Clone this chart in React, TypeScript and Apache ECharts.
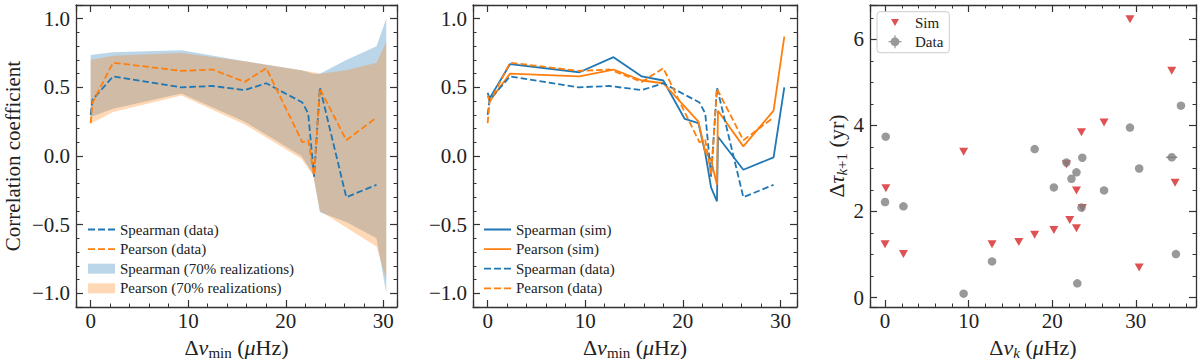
import React, { useEffect, useRef } from 'react';
import * as echarts from 'echarts';

const FONT = '"Liberation Serif", "Times New Roman", serif';
const TXT = '#222222';
const AX = '#333333';
const BLUE = '#1f77b4';
const ORANGE = '#ff7f0e';
const RED = '#d62728';
const GRAY = '#808080';
const BLUE_FILL = 'rgba(31,119,180,0.3)';
const ORANGE_FILL = 'rgba(255,127,14,0.3)';

// ---- Panel 1 & 2: correlation vs Δν_min ----
const dvMinData = [0, 0.2, 2.3, 9.3, 12.5, 15.8, 18.0, 21.7, 22.3, 22.9, 23.5, 26.2, 29.3];
const spearmanData = [0.30, 0.41, 0.58, 0.50, 0.51, 0.48, 0.53, 0.39, 0.31, -0.15, 0.50, -0.30, -0.21];
const pearsonData = [0.24, 0.39, 0.68, 0.62, 0.63, 0.54, 0.64, 0.10, 0.115, -0.14, 0.49, 0.115, 0.28];

const dvMinSim = [0, 0.2, 2.3, 9.4, 12.9, 15.8, 18.0, 20.2, 21.6, 22.3, 22.9, 23.5, 23.6, 26.2, 29.3, 30.4];
const spearmanSim = [0.46, 0.42, 0.67, 0.61, 0.72, 0.58, 0.55, 0.27, 0.24, 0.02, -0.23, -0.33, 0.14, -0.10, -0.01, 0.50];
const pearsonSim = [0.44, 0.40, 0.60, 0.58, 0.63, 0.55, 0.53, 0.36, 0.25, 0.03, -0.03, -0.21, 0.33, 0.07, 0.33, 0.87];

const bandX = [0, 2.3, 9.3, 15.8, 21.6, 22.8, 23.5, 26.2, 29.3, 30.3];
const spearmanHi = [0.735, 0.755, 0.77, 0.69, 0.625, 0.60, 0.60, 0.70, 0.80, 1.00];
const spearmanLo = [0.285, 0.345, 0.455, 0.25, 0.00, -0.13, -0.41, -0.48, -0.60, -1.00];
const pearsonHi = [0.70, 0.73, 0.75, 0.69, 0.625, 0.61, 0.60, 0.625, 0.68, 0.83];
const pearsonLo = [0.235, 0.32, 0.44, 0.23, -0.02, -0.14, -0.40, -0.52, -0.66, -0.90];

// ---- Panel 3: Δτ_{k+1} vs Δν_k ----
const simX = [0.1, 0, 2.2, 9.4, 12.8, 16.0, 17.9, 20.2, 22.1, 22.9, 21.7, 22.9, 23.6, 23.5, 26.2, 29.3, 30.4, 34.3, 34.7];
const simY = [2.54, 1.24, 1.01, 3.39, 1.24, 1.29, 1.46, 1.57, 1.80, 1.61, 3.10, 2.49, 2.08, 3.84, 4.07, 6.47, 0.70, 5.27, 2.67];
const dataX = [0.08, 0, 2.2, 9.4, 12.8, 17.9, 20.2, 21.7, 22.3, 22.9, 23.6, 23.5, 23.0, 26.2, 29.3, 30.4, 34.3, 34.8, 35.4];
const dataY = [3.74, 2.22, 2.12, 0.09, 0.84, 3.45, 2.56, 3.14, 2.76, 2.91, 3.25, 2.09, 0.33, 2.49, 3.95, 3.00, 3.26, 1.01, 4.46];
const errX = [34.3];
const errY = [3.26];
const errXHalf = [0.65];

const TRI_DOWN = 'path://M0,0 L10,0 L5,8.66 Z';
const LEG_SIM = 'path://M0,0 L0.01,0 L0,0.01 Z M22,14 L21.99,14 L22,13.99 Z M3,3.2 L11,3.2 L7,10.2 Z';
const LEG_DATA = 'path://M0,0 L0.01,0 L0,0.01 Z M22,14 L21.99,14 L22,13.99 Z M7,2.6 A4.4,4.4 0 1 1 6.99,2.6 Z M0.5,6.4 H13.5 V7.6 H0.5 Z M6.4,0.5 H7.6 V13.5 H6.4 Z';
const LEG_CORNERS = 'M0,0 L0.01,0 L0,0.01 Z M27,10 L26.99,10 L27,9.99 Z ';
const LEG_SOLID = 'path://' + LEG_CORNERS + 'M0,4.1 H27 V5.9 H0 Z';
const LEG_DASHED = 'path://' + LEG_CORNERS + 'M0,4.1 H7 V5.9 H0 Z M10,4.1 H17 V5.9 H10 Z M20,4.1 H27 V5.9 H20 Z';

const corrFmt = (v: number) => (Math.abs(v) < 1e-9 ? '0.0' : v.toFixed(1)).replace('-', '\u2212');
const intFmt = (v: number) => String(Math.round(v)).replace('-', '\u2212');

function axis(o: any) {
  return {
    type: 'value',
    gridIndex: o.grid,
    position: o.position,
    min: o.min,
    max: o.max,
    splitNumber: o.split,
    axisLine: { show: true, onZero: false, lineStyle: { color: AX, width: 1.3 } },
    axisTick: { show: true, inside: true, length: 7, lineStyle: { color: AX, width: 1.2 } },
    minorTick: { show: true, splitNumber: o.minor, length: 3.5, lineStyle: { color: AX, width: 1 } },
    splitLine: { show: false },
    minorSplitLine: { show: false },
    axisLabel: {
      show: !!o.labels,
      fontFamily: FONT,
      fontSize: 21,
      color: TXT,
      margin: o.margin ?? 4,
      showMinLabel: false,
      showMaxLabel: false,
      formatter: o.fmt,
    },
    name: o.name,
    nameLocation: 'middle',
    nameGap: o.nameGap,
    nameRotate: o.nameRotate,
    nameTextStyle: o.nameStyle,
  };
}

const richBase = {
  a: { fontFamily: FONT, fontSize: 22, color: TXT, lineHeight: 26 },
  i: { fontFamily: FONT, fontSize: 22, color: TXT, lineHeight: 26, fontStyle: 'italic' },
  s: { fontFamily: FONT, fontSize: 15, color: TXT, lineHeight: 15, verticalAlign: 'bottom' },
  si: { fontFamily: FONT, fontSize: 15, color: TXT, lineHeight: 15, verticalAlign: 'bottom', fontStyle: 'italic' },
};
const xNameMin = '{a|Δ}{i|ν}{s|min}{a| (}{i|μ}{a|Hz)}';
const xNameK = '{a|Δ}{i|ν}{si|k}{a| (}{i|μ}{a|Hz)}';
const yNameTau = '{a|Δ}{i|τ}{si|k}{s|+1}{a| (yr)}';

function lineSeries(name: string, xs: number[], ys: number[], color: string, dashed: boolean, idx: number) {
  return {
    type: 'line',
    name,
    xAxisIndex: idx,
    yAxisIndex: idx,
    data: xs.map((x, i) => [x, ys[i]]),
    symbol: 'none',
    showSymbol: false,
    lineStyle: { color, width: 1.8, type: dashed ? [6.5, 3] : 'solid' },
    itemStyle: { color },
    z: 3,
  };
}

function bandSeries(name: string, xs: number[], lo: number[], hi: number[], color: string) {
  return {
    type: 'custom',
    name,
    xAxisIndex: 0,
    yAxisIndex: 0,
    data: xs.map((x, i) => [x, lo[i], hi[i]]),
    encode: { x: 0, y: [1, 2] },
    itemStyle: { color },
    silent: true,
    z: 2,
    renderItem: (params: any, api: any) => {
      if (params.dataIndex !== 0) return { type: 'group', children: [] };
      const pts: number[][] = [];
      for (let i = 0; i < xs.length; i++) pts.push(api.coord([xs[i], hi[i]]));
      for (let i = xs.length - 1; i >= 0; i--) pts.push(api.coord([xs[i], lo[i]]));
      return { type: 'polygon', shape: { points: pts }, style: { fill: color } };
    },
  };
}

const legendText = { fontFamily: FONT, fontSize: 15, color: TXT, lineHeight: 15 };
const noBorder = { borderWidth: 0 };

function buildOption() {
  const xMinCorr = -1.5;
  return {
    animation: false,
    backgroundColor: '#ffffff',
    grid: [
      { left: 76, top: 5, width: 321, height: 302, outerBoundsMode: 'none' },
      { left: 473, top: 5, width: 324, height: 302, outerBoundsMode: 'none' },
      { left: 870, top: 5, width: 326, height: 302, outerBoundsMode: 'none' },
    ],
    xAxis: [
      axis({ grid: 0, position: 'bottom', min: xMinCorr, max: 31.4, split: 3, minor: 5, labels: true, fmt: intFmt, margin: 3,
        name: xNameMin, nameGap: 27, nameStyle: { rich: richBase } }),
      axis({ grid: 0, position: 'top', min: xMinCorr, max: 31.4, split: 3, minor: 5 }),
      axis({ grid: 1, position: 'bottom', min: xMinCorr, max: 31.7, split: 3, minor: 5, labels: true, fmt: intFmt, margin: 3,
        name: xNameMin, nameGap: 27, nameStyle: { rich: richBase } }),
      axis({ grid: 1, position: 'top', min: xMinCorr, max: 31.7, split: 3, minor: 5 }),
      axis({ grid: 2, position: 'bottom', min: -1.8, max: 37.2, split: 3, minor: 5, labels: true, fmt: intFmt, margin: 3,
        name: xNameK, nameGap: 27, nameStyle: { rich: richBase } }),
      axis({ grid: 2, position: 'top', min: -1.8, max: 37.2, split: 3, minor: 5 }),
    ],
    yAxis: [
      axis({ grid: 0, position: 'left', min: -1.1, max: 1.1, split: 5, minor: 5, labels: true, fmt: corrFmt, margin: 6,
        name: 'Correlation coefficient', nameGap: 53, nameRotate: 90,
        nameStyle: { fontFamily: FONT, fontSize: 21, color: TXT } }),
      axis({ grid: 0, position: 'right', min: -1.1, max: 1.1, split: 5, minor: 5 }),
      axis({ grid: 1, position: 'left', min: -1.1, max: 1.1, split: 5, minor: 5, labels: true, fmt: corrFmt, margin: 6 }),
      axis({ grid: 1, position: 'right', min: -1.1, max: 1.1, split: 5, minor: 5 }),
      axis({ grid: 2, position: 'left', min: -0.22, max: 6.8, split: 3, minor: 4, labels: true, fmt: intFmt, margin: 6,
        name: yNameTau, nameGap: 18, nameRotate: 90, nameStyle: { rich: richBase } }),
      axis({ grid: 2, position: 'right', min: -0.22, max: 6.8, split: 3, minor: 4 }),
    ],
    legend: [
      {
        orient: 'vertical', left: 88, top: 222, padding: 0, itemWidth: 27, itemHeight: 10, itemGap: 4.6,
        selectedMode: false, textStyle: legendText,
        data: [
          { name: 'Spearman (data)', icon: LEG_DASHED, itemStyle: noBorder },
          { name: 'Pearson (data)', icon: LEG_DASHED, itemStyle: noBorder },
          { name: 'Spearman (70% realizations)', icon: 'rect', itemStyle: noBorder },
          { name: 'Pearson (70% realizations)', icon: 'rect', itemStyle: noBorder },
        ],
      },
      {
        orient: 'vertical', left: 484, top: 222, padding: 0, itemWidth: 27, itemHeight: 10, itemGap: 4.6,
        selectedMode: false, textStyle: legendText,
        data: [
          { name: 'Spearman (sim)', icon: LEG_SOLID, itemStyle: noBorder },
          { name: 'Pearson (sim)', icon: LEG_SOLID, itemStyle: noBorder },
          { name: 'Spearman (data)', icon: LEG_DASHED, itemStyle: noBorder },
          { name: 'Pearson (data)', icon: LEG_DASHED, itemStyle: noBorder },
        ],
      },
      {
        orient: 'vertical', left: 877, top: 11.7, padding: [3.5, 6, 3.5, 11], itemWidth: 22, itemHeight: 14, itemGap: 4,
        selectedMode: false, textStyle: legendText,
        borderColor: '#cccccc', borderWidth: 1, borderRadius: 3, backgroundColor: 'rgba(255,255,255,0.8)',
        data: [
          { name: 'Sim', icon: LEG_SIM, itemStyle: noBorder },
          { name: 'Data', icon: LEG_DATA, itemStyle: noBorder },
        ],
      },
    ],
    series: [
      bandSeries('Spearman (70% realizations)', bandX, spearmanLo, spearmanHi, BLUE_FILL),
      bandSeries('Pearson (70% realizations)', bandX, pearsonLo, pearsonHi, ORANGE_FILL),
      lineSeries('Spearman (data)', dvMinData, spearmanData, BLUE, true, 0),
      lineSeries('Pearson (data)', dvMinData, pearsonData, ORANGE, true, 0),
      lineSeries('Spearman (sim)', dvMinSim, spearmanSim, BLUE, false, 2),
      lineSeries('Pearson (sim)', dvMinSim, pearsonSim, ORANGE, false, 2),
      lineSeries('Spearman (data)', dvMinData, spearmanData, BLUE, true, 2),
      lineSeries('Pearson (data)', dvMinData, pearsonData, ORANGE, true, 2),
      {
        type: 'scatter', name: 'Sim', xAxisIndex: 4, yAxisIndex: 4,
        data: simX.map((x, i) => [x, simY[i]]),
        symbol: TRI_DOWN, symbolSize: [9, 8], itemStyle: { color: RED }, z: 3,
      },
      {
        type: 'custom', name: 'Data errorbar', xAxisIndex: 4, yAxisIndex: 4, silent: true, z: 4,
        data: errX.map((x, i) => [x, errY[i], errXHalf[i]]),
        encode: { x: 0, y: 1 },
        renderItem: (params: any, api: any) => {
          const x = api.value(0), y = api.value(1), e = api.value(2);
          const a = api.coord([x - e, y]);
          const b = api.coord([x + e, y]);
          return { type: 'line', shape: { x1: a[0], y1: a[1], x2: b[0], y2: b[1] }, style: { stroke: GRAY, lineWidth: 1.5 } };
        },
      },
      {
        type: 'scatter', name: 'Data', xAxisIndex: 4, yAxisIndex: 4,
        data: dataX.map((x, i) => [x, dataY[i]]),
        symbol: 'circle', symbolSize: 8.5, itemStyle: { color: GRAY }, z: 5,
      },
    ],
  };
}

export default function App() {
  const ref = useRef<HTMLDivElement>(null);
  useEffect(() => {
    if (!ref.current) return;
    const chart = echarts.init(ref.current, undefined, { renderer: 'svg' });
    chart.setOption(buildOption() as any);
    return () => chart.dispose();
  }, []);
  return (
    <div
      ref={ref}
      style={{ position: 'fixed', left: 0, top: 0, width: 1200, height: 359, background: '#fff' }}
    />
  );
}
